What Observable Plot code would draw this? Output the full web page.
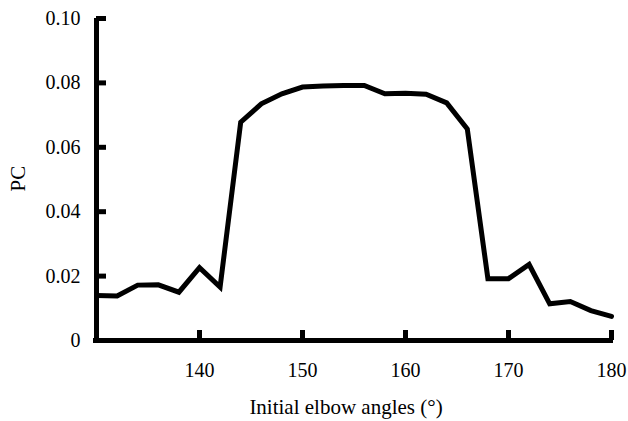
<!DOCTYPE html>
<html>
<head>
<meta charset="utf-8">
<script src="https://cdn.jsdelivr.net/npm/d3@7"></script>
<script src="https://cdn.jsdelivr.net/npm/@observablehq/plot@0.6"></script>
<style>
  html, body { margin: 0; padding: 0; background: #fff; }
  svg { display: block; }
  svg text { font-family: 'Liberation Serif', 'Times New Roman', serif; }
</style>
</head>
<body>
<div id="chart"></div>
<script>
const angles = [130,132,134,136,138,140,142,144,146,148,150,152,154,156,158,160,162,164,166,168,170,172,174,176,178,180];
const pcValues = [0.0140,0.0138,0.0172,0.0173,0.0150,0.0226,0.0166,0.0678,0.0735,0.0766,0.0787,0.0790,0.0792,0.0792,0.0766,0.0768,0.0765,0.0738,0.0657,0.0192,0.0192,0.0236,0.0114,0.0121,0.0093,0.0075];
const xTicks = [140,150,160,170,180];
const yTicks = [0,0.02,0.04,0.06,0.08,0.10];
const yTickLabels = ["0","0.02","0.04","0.06","0.08","0.10"];
const xLabel = "Initial elbow angles (°)";
const yLabel = "PC";

const data = angles.map((a, i) => ({angle: a, pc: pcValues[i]}));

const W = 628, H = 421;
const mL = 96, mR = 17, mT = 18, mB = 81;
const innerW = W - mL - mR, innerH = H - mT - mB;
const tickLen = 10;
const serif = "'Liberation Serif', 'Times New Roman', serif";

const chart = Plot.plot({
  width: W,
  height: H,
  marginLeft: mL,
  marginRight: mR,
  marginTop: mT,
  marginBottom: mB,
  style: {fontFamily: serif, fontSize: "20px", color: "#000", background: "#fff"},
  x: {domain: [130, 180]},
  y: {domain: [0, 0.1]},
  marks: [
    Plot.axisX({ticks: xTicks, tickSize: 0, tickPadding: 22, label: null, fontSize: 20, fontFamily: serif, fill: "#000"}),
    Plot.axisY({ticks: yTicks, tickSize: 0, tickPadding: 16, label: null, fontSize: 20, fontFamily: serif, fill: "#000",
      tickFormat: (d) => yTickLabels[yTicks.indexOf(d)]}),
    Plot.tickX(xTicks, {x: d => d, stroke: "#000", strokeWidth: 5, insetTop: innerH - tickLen}),
    Plot.tickY(yTicks, {y: d => d, stroke: "#000", strokeWidth: 5, insetRight: innerW - tickLen}),
    Plot.ruleY([0], {stroke: "#000", strokeWidth: 5, x1: 130, x2: 180, insetLeft: -3, insetRight: -2}),
    Plot.ruleX([130], {stroke: "#000", strokeWidth: 5, y1: 0, y2: 0.1, insetTop: -2}),
    Plot.line(data, {x: "angle", y: "pc", stroke: "#000", strokeWidth: 5, strokeLinejoin: "miter", strokeMiterlimit: 4}),
    Plot.text([yLabel], {frameAnchor: "left", dx: -78, dy: 12, rotate: -90, fontSize: 21, fontFamily: serif, fill: "#000"}),
    Plot.text([xLabel], {frameAnchor: "bottom", dx: -8, dy: 73, fontSize: 21, fontFamily: serif, fill: "#000"})
  ]
});
document.getElementById("chart").appendChild(chart);
</script>
</body>
</html>
